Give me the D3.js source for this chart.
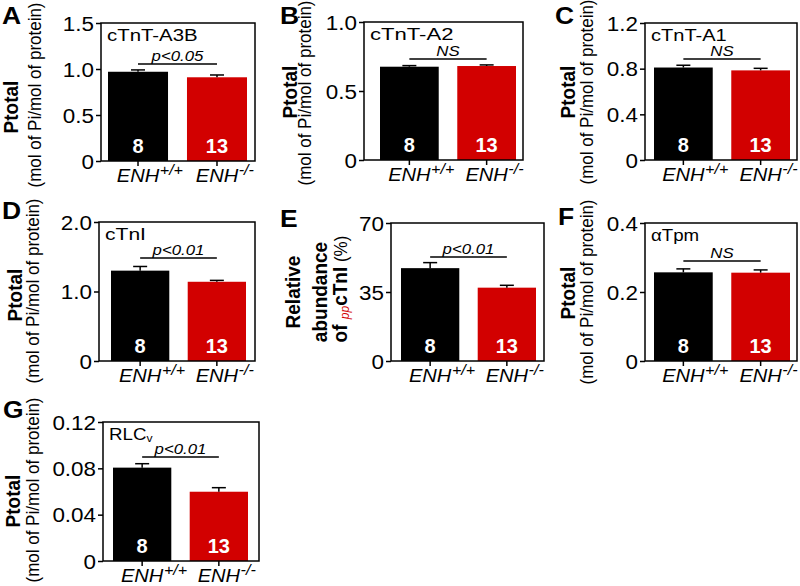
<!DOCTYPE html>
<html><head><meta charset="utf-8">
<script src="https://cdn.jsdelivr.net/npm/d3@7"></script>
<style>
body{margin:0;background:#fff}
svg{display:block}
text{font-family:"Liberation Sans",Arial,Helvetica,sans-serif;fill:#000}
</style>
</head><body>
<svg id="chart" width="800" height="586"></svg>
<script>
// ---------------- data ----------------
const panelLetters = ["A","B","C","D","E","F","G"];
const genotypeBase = ["ENH","ENH"];
const genotypeSup = ["+/+","-/-"];
const sampleSizes = [8, 13];
const proteinNames = ["cTnT-A3B","cTnT-A2","cTnT-A1","cTnI","","αTpm","RLC"];
const proteinSubs  = ["","","","","","","v"];

const meanA3B = [0.97, 0.91];   const semA3B = [0.02, 0.025];
const meanA2  = [0.676, 0.681]; const semA2  = [0.008, 0.008];
const meanA1  = [0.81, 0.785];  const semA1  = [0.02, 0.018];
const meanTnI = [1.30, 1.14];   const semTnI = [0.06, 0.02];
const meanPP  = [47.1, 37.2];   const semPP  = [2.8, 1.2];
const meanTpm = [0.257, 0.256]; const semTpm = [0.01, 0.008];
const meanRLC = [0.0806, 0.0598]; const semRLC = [0.0034, 0.0035];

const sigLabels = ["p<0.05","NS","NS","p<0.01","p<0.01","NS","p<0.01"];
const yMaxes = [1.5, 1.0, 1.2, 2.0, 70, 0.4, 0.12];
const yTickValues = [[0,0.5,1.0,1.5],[0,0.5,1.0],[0,0.4,0.8,1.2],[0,1.0,2.0],[0,35,70],[0,0.2,0.4],[0,0.04,0.08,0.12]];
const yTickLabels = [["0","0.5","1.0","1.5"],["0","0.5","1.0"],["0","0.4","0.8","1.2"],["0","1.0","2.0"],["0","35","70"],["0","0.2","0.4"],["0","0.04","0.08","0.12"]];
const yTitleMain = "Ptotal";
const yTitleSub = "(mol of Pi/mol of protein)";
const eTitleLines = ["Relative","abundance"];

// ---------------- layout ----------------
const layout = [
  {l:101,r:255,t:23, b:161, bl:108,br:247, sigY:41, let:[2,24],   px:18, sx:41, pc:107, sc:95,  ts:1.2},
  {l:364,r:523,t:22, b:160, bl:380,br:516, sigY:37, let:[280,24], px:297,sx:311,pc:92,  sc:93,  ts:1.3},
  {l:645,r:797,t:23, b:160, bl:654,br:790, sigY:36, let:[555,24], px:575,sx:593,pc:92,  sc:92,  ts:1.18},
  {l:99, r:255,t:222,b:361, bl:111,br:246, sigY:36, let:[2,219],  px:22, sx:39, pc:295, sc:291, ts:1.24},
  {l:391,r:544,t:223,b:361, bl:401,br:536, sigY:34, let:[280,227],px:0,  sx:0,  pc:292, sc:292, ts:1},
  {l:645,r:797,t:223,b:361, bl:654,br:790, sigY:38, let:[558,225],px:575,sx:593,pc:293, sc:292, ts:1.1},
  {l:103,r:259,t:422,b:561, bl:113,br:248, sigY:35, let:[3,418],  px:20, sx:39, pc:501, sc:490, ts:1.1}
];
const RED = "#d20000";
const barColors = ["#000000", RED];
const SX = 1.15;

const panels = [
  {mean:meanA3B, sem:semA3B}, {mean:meanA2, sem:semA2}, {mean:meanA1, sem:semA1},
  {mean:meanTnI, sem:semTnI}, {mean:meanPP, sem:semPP}, {mean:meanTpm, sem:semTpm},
  {mean:meanRLC, sem:semRLC}
];

const svg = d3.select("#chart");

function stext(parent, x, y, sx, rot) {
  const g = parent.append("g")
    .attr("transform", `translate(${x},${y}) scale(${sx},1)` + (rot ? " rotate(-90)" : ""));
  return g.append("text");
}

panels.forEach((p, i) => {
  const L = layout[i];
  const g = svg.append("g");
  const x = d3.scaleBand().domain([0,1]).range([L.bl, L.br]).paddingInner(0.24).paddingOuter(0);
  const y = d3.scaleLinear().domain([0, yMaxes[i]]).range([L.b, L.t]);

  // bars
  g.selectAll("rect.bar").data(p.mean).join("rect")
    .attr("class","bar")
    .attr("x", (d,j) => x(j)).attr("width", x.bandwidth())
    .attr("y", d => y(d)).attr("height", d => y(0) - y(d))
    .attr("fill", (d,j) => barColors[j]);

  // error bars (upper only)
  const cap = 7;
  p.mean.forEach((m, j) => {
    const cx = x(j) + x.bandwidth()/2;
    g.append("line").attr("x1",cx).attr("x2",cx).attr("y1",y(m)).attr("y2",y(m+p.sem[j]))
      .attr("stroke","#000").attr("stroke-width",1.5);
    g.append("line").attr("x1",cx-cap).attr("x2",cx+cap).attr("y1",y(m+p.sem[j])).attr("y2",y(m+p.sem[j]))
      .attr("stroke","#000").attr("stroke-width",1.5);
  });

  // frame
  g.append("rect").attr("x",L.l).attr("y",L.t).attr("width",L.r-L.l).attr("height",L.b-L.t)
    .attr("fill","none").attr("stroke","#000").attr("stroke-width",1.5);

  // y axis
  const ya = g.append("g").attr("transform",`translate(${L.l},0)`)
    .call(d3.axisLeft(y).tickValues(yTickValues[i]).tickFormat((d,k)=>yTickLabels[i][k]).tickSize(5).tickPadding(2));
  ya.select(".domain").remove();
  ya.selectAll(".tick line").attr("stroke","#000").attr("stroke-width",1.5);
  ya.selectAll(".tick text").attr("font-size",19.5).attr("fill","#000")
    .attr("font-family","Liberation Sans, Arial, sans-serif")
    .attr("x", -7/SX).attr("dy","0.36em").attr("transform",`scale(${SX},1)`);

  // x axis ticks
  const xa = g.append("g").attr("transform",`translate(0,${L.b})`)
    .call(d3.axisBottom(x).tickSize(5).tickFormat(""));
  xa.select(".domain").remove();
  xa.selectAll(".tick line").attr("stroke","#000").attr("stroke-width",1.5);

  // x labels
  genotypeBase.forEach((base, j) => {
    const cx = x(j) + x.bandwidth()/2;
    const t = stext(g, cx, L.b + 21, SX, false)
      .attr("font-size",17.5).attr("font-style","italic").attr("text-anchor","middle").text(base);
    const w = t.node().getComputedTextLength() * SX;
    stext(g, cx + w/2 + 0.5, L.b + 14, SX, false)
      .attr("font-size",14).attr("font-style","italic").text(genotypeSup[j]);
  });

  // n labels
  sampleSizes.forEach((n, j) => {
    const cx = x(j) + x.bandwidth()/2;
    g.append("text").attr("x",cx).attr("y",L.b-8).attr("text-anchor","middle")
      .attr("font-size",20).attr("font-weight","bold").style("fill","#fff").text(n);
  });

  // significance
  const c0 = x(0) + x.bandwidth()/2, c1 = x(1) + x.bandwidth()/2;
  g.append("line").attr("x1",c0).attr("x2",c1).attr("y1",L.t+L.sigY).attr("y2",L.t+L.sigY)
    .attr("stroke","#000").attr("stroke-width",1.3);
  stext(g, (c0+c1)/2, L.t + L.sigY - 3, 1.12, false)
    .attr("font-size",15).attr("font-style","italic").attr("text-anchor","middle").text(sigLabels[i]);

  // protein title
  if (proteinNames[i]) {
    const tt = stext(g, L.l + 6, L.t + 18, L.ts, false).attr("font-size",17).text(proteinNames[i]);
    if (proteinSubs[i]) tt.append("tspan").attr("font-size",11).attr("dy",2).text(proteinSubs[i]);
  }

  // panel letter
  stext(g, L.let[0], L.let[1], 1.15, false).attr("font-size",23).attr("font-weight","bold").text(panelLetters[i]);

  // y titles
  if (i !== 4) {
    stext(g, L.px, L.pc, 1.1, true).attr("font-size",19).attr("font-weight","bold")
      .attr("text-anchor","middle").text(yTitleMain);
    stext(g, L.sx, L.sc, 1.1, true).attr("font-size",17)
      .attr("text-anchor","middle").text(yTitleSub);
  } else {
    stext(g, 300, L.pc, 1.1, true).attr("font-size",19).attr("font-weight","bold")
      .attr("text-anchor","middle").text(eTitleLines[0]);
    stext(g, 327, L.pc, 1.1, true).attr("font-size",19).attr("font-weight","bold")
      .attr("text-anchor","middle").text(eTitleLines[1]);
    const t3 = stext(g, 347, L.pc - 3, 1.1, true).attr("text-anchor","middle");
    t3.append("tspan").attr("font-size",19).attr("font-weight","bold").text("of ");
    t3.append("tspan").attr("font-size",12).attr("font-style","italic").style("fill",RED).attr("dy",2).text("pp");
    t3.append("tspan").attr("font-size",19).attr("font-weight","bold").attr("dy",-2).text("cTnI");
    t3.append("tspan").attr("font-size",17).text(" (%)");
  }
});
</script>
</body></html>
